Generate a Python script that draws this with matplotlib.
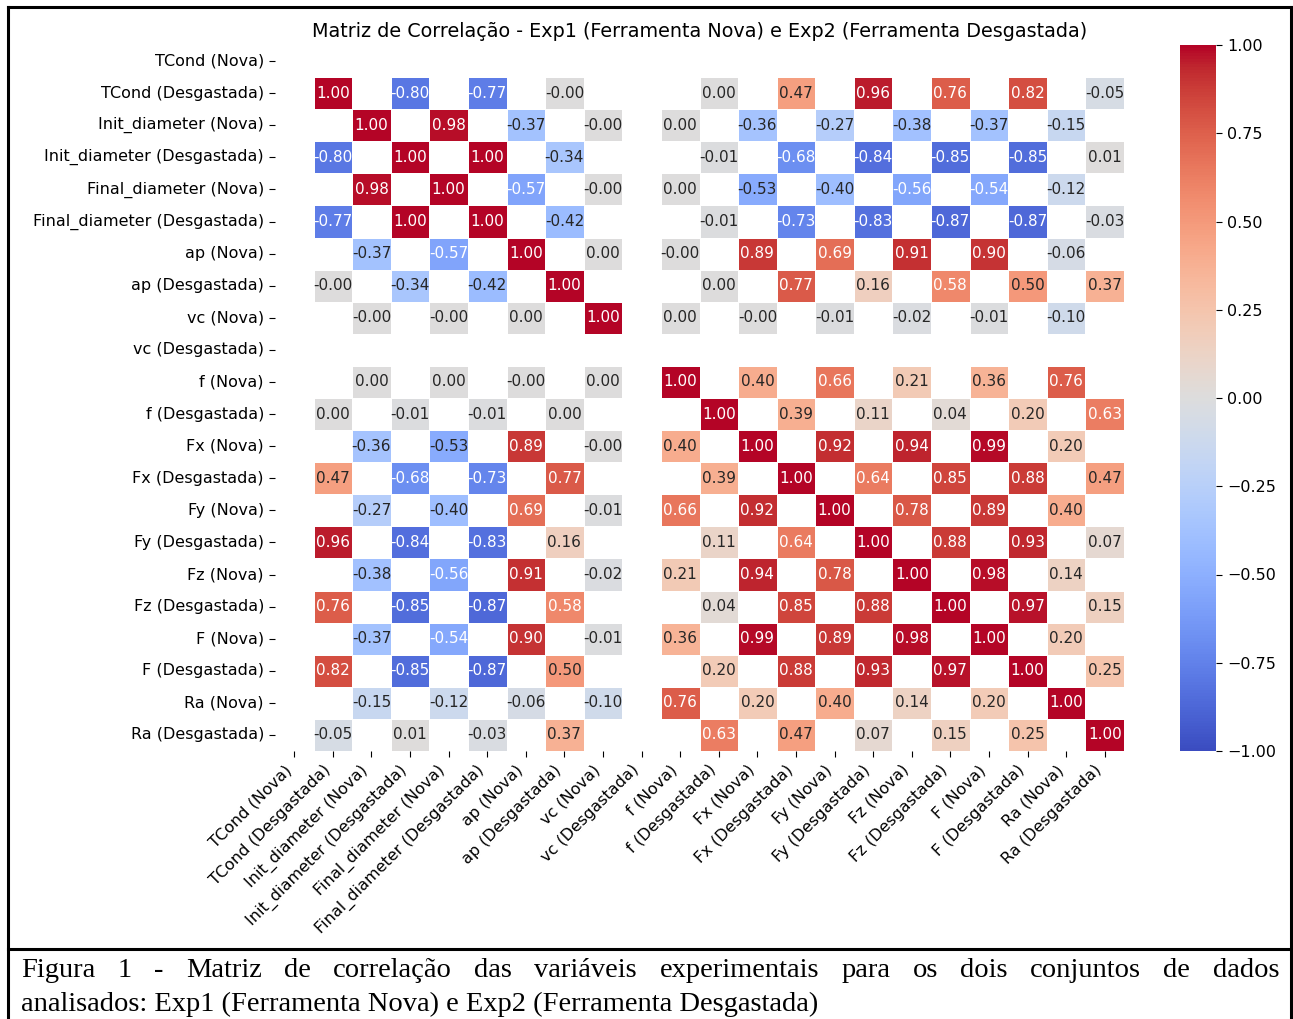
import numpy as np
import pandas as pd
import matplotlib
matplotlib.use('Agg')
import matplotlib.pyplot as plt
from matplotlib.lines import Line2D
import seaborn as sns

# variaveis (ordem da matriz: cada uma em Nova e Desgastada)
variaveis = ['TCond', 'Init_diameter', 'Final_diameter', 'ap', 'vc', 'f',
             'Fx', 'Fy', 'Fz', 'F', 'Ra']

# Exp1 (Nova) - TCond constante, fica de fora
vars_nova = ['Init_diameter', 'Final_diameter', 'ap', 'vc', 'f',
             'Fx', 'Fy', 'Fz', 'F', 'Ra']
corr_nova = [
    [1.00, 0.98, -0.37, -0.0, 0.00, -0.36, -0.27, -0.38, -0.37, -0.15],
    [0.98, 1.00, -0.57, -0.0, 0.00, -0.53, -0.40, -0.56, -0.54, -0.12],
    [-0.37, -0.57, 1.00, 0.00, -0.0, 0.89, 0.69, 0.91, 0.90, -0.06],
    [-0.0, -0.0, 0.00, 1.00, 0.00, -0.0, -0.01, -0.02, -0.01, -0.10],
    [0.00, 0.00, -0.0, 0.00, 1.00, 0.40, 0.66, 0.21, 0.36, 0.76],
    [-0.36, -0.53, 0.89, -0.0, 0.40, 1.00, 0.92, 0.94, 0.99, 0.20],
    [-0.27, -0.40, 0.69, -0.01, 0.66, 0.92, 1.00, 0.78, 0.89, 0.40],
    [-0.38, -0.56, 0.91, -0.02, 0.21, 0.94, 0.78, 1.00, 0.98, 0.14],
    [-0.37, -0.54, 0.90, -0.01, 0.36, 0.99, 0.89, 0.98, 1.00, 0.20],
    [-0.15, -0.12, -0.06, -0.10, 0.76, 0.20, 0.40, 0.14, 0.20, 1.00],
]

# Exp2 (Desgastada) - vc constante, fica de fora
vars_desg = ['TCond', 'Init_diameter', 'Final_diameter', 'ap', 'f',
             'Fx', 'Fy', 'Fz', 'F', 'Ra']
corr_desg = [
    [1.00, -0.80, -0.77, -0.0, 0.00, 0.47, 0.96, 0.76, 0.82, -0.05],
    [-0.80, 1.00, 1.00, -0.34, -0.01, -0.68, -0.84, -0.85, -0.85, 0.01],
    [-0.77, 1.00, 1.00, -0.42, -0.01, -0.73, -0.83, -0.87, -0.87, -0.03],
    [-0.0, -0.34, -0.42, 1.00, 0.00, 0.77, 0.16, 0.58, 0.50, 0.37],
    [0.00, -0.01, -0.01, 0.00, 1.00, 0.39, 0.11, 0.04, 0.20, 0.63],
    [0.47, -0.68, -0.73, 0.77, 0.39, 1.00, 0.64, 0.85, 0.88, 0.47],
    [0.96, -0.84, -0.83, 0.16, 0.11, 0.64, 1.00, 0.88, 0.93, 0.07],
    [0.76, -0.85, -0.87, 0.58, 0.04, 0.85, 0.88, 1.00, 0.97, 0.15],
    [0.82, -0.85, -0.87, 0.50, 0.20, 0.88, 0.93, 0.97, 1.00, 0.25],
    [-0.05, 0.01, -0.03, 0.37, 0.63, 0.47, 0.07, 0.15, 0.25, 1.00],
]

titulo = 'Matriz de Correlação - Exp1 (Ferramenta Nova) e Exp2 (Ferramenta Desgastada)'
legenda_l1 = ('Figura 1 - Matriz de correlação das variáveis experimentais '
              'para os dois conjuntos de dados')
legenda_l2 = 'analisados: Exp1 (Ferramenta Nova) e Exp2 (Ferramenta Desgastada)'

plt.rcParams['font.family'] = ['DejaVu Sans']

# monta a matriz 22x22 (Nova x Desgastada nao se cruzam -> NaN)
labels = []
for v in variaveis:
    labels.append(v + ' (Nova)')
    labels.append(v + ' (Desgastada)')
corr = pd.DataFrame(np.nan, index=labels, columns=labels)
nomes_n = [v + ' (Nova)' for v in vars_nova]
nomes_d = [v + ' (Desgastada)' for v in vars_desg]
corr.loc[nomes_n, nomes_n] = np.array(corr_nova)
corr.loc[nomes_d, nomes_d] = np.array(corr_desg)

W, H = 1293, 1019
fig = plt.figure(figsize=(W / 100, H / 100), dpi=100)
ax = fig.add_axes([275 / W, 1 - 751 / H, (1124 - 275) / W, (751 - 45) / H])
cax = fig.add_axes([1180 / W, 1 - 751 / H, 36 / W, (751 - 45) / H])

sns.heatmap(corr, annot=True, fmt='.2f', cmap='coolwarm', vmin=-1, vmax=1,
            linewidths=0.5, linecolor='white', ax=ax, cbar_ax=cax,
            annot_kws={'fontsize': 11})
ax.set_title(titulo, fontsize=13.8, pad=5.5)
plt.setp(ax.get_xticklabels(), rotation=45, ha='right', fontsize=11.5)
plt.setp(ax.get_yticklabels(), rotation=0, fontsize=11.5)
ax.tick_params(length=4.5)
cax.tick_params(labelsize=11.5, length=4.5)

# moldura da figura + separador da legenda
lw = 2.2
def linha(x, y):
    fig.add_artist(Line2D(np.array(x) / W, 1 - np.array(y) / H, color='black',
                          lw=lw, transform=fig.transFigure, clip_on=False))
linha([8, 1291], [7, 7])
linha([8, 8], [7, H + 5])
linha([1291, 1291], [7, H + 5])
linha([8, 1291], [949, 949])

# legenda justificada (linha 1) + linha 2 alinhada a esquerda
fonte = dict(family='Liberation Serif', fontsize=20.5, color='black')
r = fig.canvas.get_renderer()
palavras = legenda_l1.split(' ')
x0, x1 = 21, 1279
larguras = []
for p in palavras:
    t = fig.text(0, 0, p, **fonte)
    larguras.append(t.get_window_extent(r).width)
    t.remove()
gap = (x1 - x0 - sum(larguras)) / (len(palavras) - 1)
x = x0
for p, w in zip(palavras, larguras):
    fig.text(x / W, 1 - 977 / H, p, va='baseline', ha='left', **fonte)
    x += w + gap
fig.text(x0 / W, 1 - 1011 / H, legenda_l2, va='baseline', ha='left', **fonte)

fig.savefig('out.png', dpi=100)
